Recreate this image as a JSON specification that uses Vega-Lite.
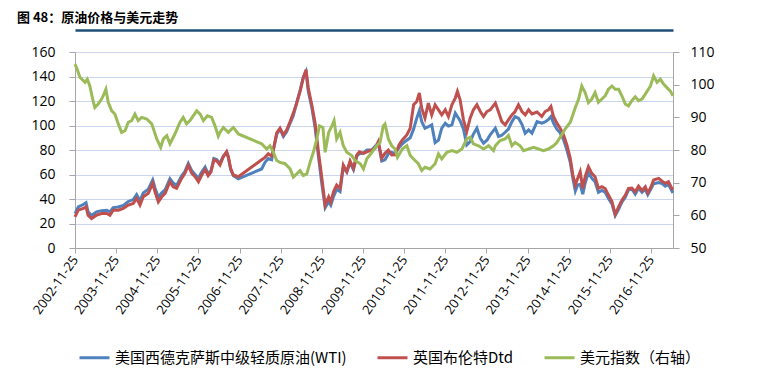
{
  "$schema": "https://vega.github.io/schema/vega-lite/v6.json",
  "width": 598,
  "height": 196,
  "autosize": {"type": "none"},
  "padding": {"left": 75, "top": 52, "right": 92, "bottom": 129},
  "background": "white",
  "title": {"text": "图 48：原油价格与美元走势", "anchor": "start", "frame": "group", "font": "Noto Sans CJK SC", "fontSize": 13, "fontWeight": "bold", "color": "#000000", "dx": -58, "offset": 5},
  "config": {
    "view": {"stroke": null},
    "axis": {"labelFont": "Open Sans", "labelColor": "#000000", "domainColor": "#A6A6A6", "tickColor": "#A6A6A6"}
  },
  "datasets": {
    "oil": [
      {"d": "2002-11-25", "wti": 28, "brent": 25.4},
      {"d": "2002-12-24", "wti": 33.5, "brent": 30.9},
      {"d": "2003-02-07", "wti": 35.5, "brent": 32.3},
      {"d": "2003-03-03", "wti": 37, "brent": 33.6},
      {"d": "2003-03-21", "wti": 29.5, "brent": 26.8},
      {"d": "2003-04-21", "wti": 26.5, "brent": 24.1},
      {"d": "2003-06-04", "wti": 29.5, "brent": 26.8},
      {"d": "2003-07-19", "wti": 30.5, "brent": 28.2},
      {"d": "2003-09-02", "wti": 30.8, "brent": 28.2},
      {"d": "2003-10-01", "wti": 29.5, "brent": 26.8},
      {"d": "2003-10-30", "wti": 33, "brent": 30.9},
      {"d": "2003-12-14", "wti": 33.5, "brent": 30.9},
      {"d": "2004-01-28", "wti": 34.8, "brent": 32.3},
      {"d": "2004-03-12", "wti": 38, "brent": 35},
      {"d": "2004-04-25", "wti": 39.5, "brent": 36.4},
      {"d": "2004-05-25", "wti": 43.5, "brent": 40.5},
      {"d": "2004-06-24", "wti": 38.5, "brent": 35},
      {"d": "2004-07-23", "wti": 45, "brent": 41.8},
      {"d": "2004-09-06", "wti": 48, "brent": 44.6},
      {"d": "2004-10-15", "wti": 55.5, "brent": 52.8},
      {"d": "2004-11-04", "wti": 49, "brent": 45.9},
      {"d": "2004-12-04", "wti": 41.5, "brent": 37.7},
      {"d": "2005-01-03", "wti": 45, "brent": 41.8},
      {"d": "2005-02-02", "wti": 47.5, "brent": 44.6},
      {"d": "2005-03-17", "wti": 56.5, "brent": 54.1},
      {"d": "2005-04-15", "wti": 53, "brent": 50},
      {"d": "2005-05-15", "wti": 51, "brent": 48.7},
      {"d": "2005-06-29", "wti": 59, "brent": 56.8},
      {"d": "2005-07-28", "wti": 62.5, "brent": 60.9},
      {"d": "2005-08-27", "wti": 69, "brent": 67.7},
      {"d": "2005-09-27", "wti": 63, "brent": 60.9},
      {"d": "2005-10-26", "wti": 60, "brent": 58.2},
      {"d": "2005-11-25", "wti": 57, "brent": 54.1},
      {"d": "2005-12-24", "wti": 62, "brent": 59.6},
      {"d": "2006-01-23", "wti": 66, "brent": 64},
      {"d": "2006-02-19", "wti": 60.5, "brent": 59},
      {"d": "2006-03-16", "wti": 63, "brent": 62},
      {"d": "2006-04-11", "wti": 73, "brent": 72},
      {"d": "2006-05-08", "wti": 72, "brent": 71},
      {"d": "2006-06-04", "wti": 69, "brent": 67.7},
      {"d": "2006-07-04", "wti": 75, "brent": 74.5},
      {"d": "2006-08-02", "wti": 78, "brent": 78.6},
      {"d": "2006-08-17", "wti": 74, "brent": 74.5},
      {"d": "2006-09-07", "wti": 64, "brent": 65},
      {"d": "2006-10-01", "wti": 59, "brent": 59.6},
      {"d": "2006-11-14", "wti": 56.5, "brent": 58.2},
      {"d": "2007-06-09", "wti": 64.5, "brent": 72},
      {"d": "2007-07-09", "wti": 70, "brent": 74},
      {"d": "2007-08-07", "wti": 73, "brent": 77},
      {"d": "2007-09-06", "wti": 72, "brent": 75},
      {"d": "2007-09-21", "wti": 80, "brent": 80},
      {"d": "2007-10-21", "wti": 93, "brent": 94},
      {"d": "2007-11-19", "wti": 97, "brent": 97.8},
      {"d": "2007-12-19", "wti": 91, "brent": 92.3},
      {"d": "2008-01-18", "wti": 95, "brent": 96.4},
      {"d": "2008-02-17", "wti": 102, "brent": 103.2},
      {"d": "2008-03-16", "wti": 108, "brent": 110.1},
      {"d": "2008-04-16", "wti": 119, "brent": 118.3},
      {"d": "2008-05-15", "wti": 128.5, "brent": 127.8},
      {"d": "2008-06-13", "wti": 139.5, "brent": 138.8},
      {"d": "2008-07-07", "wti": 144, "brent": 145.6},
      {"d": "2008-07-27", "wti": 128, "brent": 130.6},
      {"d": "2008-08-27", "wti": 115, "brent": 116.9},
      {"d": "2008-09-26", "wti": 98, "brent": 101.9},
      {"d": "2008-10-25", "wti": 75, "brent": 78.6},
      {"d": "2008-11-25", "wti": 52, "brent": 56.8},
      {"d": "2008-12-24", "wti": 33, "brent": 35},
      {"d": "2009-01-24", "wti": 38, "brent": 41.8},
      {"d": "2009-02-12", "wti": 35, "brent": 37.7},
      {"d": "2009-03-08", "wti": 42, "brent": 45.9},
      {"d": "2009-04-05", "wti": 48, "brent": 51.4},
      {"d": "2009-05-05", "wti": 46, "brent": 48.7},
      {"d": "2009-06-03", "wti": 66, "brent": 67.7},
      {"d": "2009-07-04", "wti": 62, "brent": 62.3},
      {"d": "2009-08-02", "wti": 69.5, "brent": 71},
      {"d": "2009-09-01", "wti": 64, "brent": 65},
      {"d": "2009-10-01", "wti": 75, "brent": 75.9},
      {"d": "2009-10-24", "wti": 77, "brent": 78.6},
      {"d": "2009-11-29", "wti": 77.5, "brent": 77.3},
      {"d": "2009-12-29", "wti": 80, "brent": 78.5},
      {"d": "2010-02-12", "wti": 80, "brent": 80},
      {"d": "2010-03-12", "wti": 83, "brent": 81.4},
      {"d": "2010-04-10", "wti": 85.5, "brent": 86.8},
      {"d": "2010-05-10", "wti": 71, "brent": 73.2},
      {"d": "2010-06-08", "wti": 72, "brent": 77.3},
      {"d": "2010-07-08", "wti": 77, "brent": 80},
      {"d": "2010-08-07", "wti": 78, "brent": 75.9},
      {"d": "2010-09-06", "wti": 77, "brent": 76},
      {"d": "2010-10-11", "wti": 82, "brent": 84.1},
      {"d": "2010-11-09", "wti": 85, "brent": 88.2},
      {"d": "2010-12-19", "wti": 88, "brent": 92.3},
      {"d": "2011-01-18", "wti": 90, "brent": 97.8},
      {"d": "2011-02-17", "wti": 97, "brent": 116.9},
      {"d": "2011-03-17", "wti": 106, "brent": 119.6},
      {"d": "2011-04-09", "wti": 112, "brent": 126.5},
      {"d": "2011-04-30", "wti": 103.2, "brent": 114.2},
      {"d": "2011-05-29", "wti": 97.8, "brent": 106},
      {"d": "2011-06-28", "wti": 99, "brent": 118.3},
      {"d": "2011-07-28", "wti": 100.5, "brent": 108.7},
      {"d": "2011-08-27", "wti": 86, "brent": 116.9},
      {"d": "2011-09-26", "wti": 88, "brent": 112.8},
      {"d": "2011-10-25", "wti": 97.8, "brent": 108.7},
      {"d": "2011-11-25", "wti": 101.9, "brent": 112.8},
      {"d": "2011-12-23", "wti": 99.5, "brent": 107.3},
      {"d": "2012-01-23", "wti": 100.5, "brent": 116.9},
      {"d": "2012-02-22", "wti": 110.1, "brent": 122.4},
      {"d": "2012-03-12", "wti": 107.3, "brent": 127.8},
      {"d": "2012-04-05", "wti": 104, "brent": 121},
      {"d": "2012-05-05", "wti": 97, "brent": 104.6},
      {"d": "2012-06-03", "wti": 84.1, "brent": 95},
      {"d": "2012-07-03", "wti": 86.8, "brent": 106},
      {"d": "2012-08-01", "wti": 93, "brent": 112.8},
      {"d": "2012-09-01", "wti": 97.8, "brent": 116.9},
      {"d": "2012-10-01", "wti": 89.6, "brent": 111.4},
      {"d": "2012-10-30", "wti": 85.5, "brent": 107.3},
      {"d": "2012-11-29", "wti": 88, "brent": 111.4},
      {"d": "2012-12-28", "wti": 92.3, "brent": 112.8},
      {"d": "2013-02-12", "wti": 97.8, "brent": 118.3},
      {"d": "2013-03-12", "wti": 91, "brent": 111},
      {"d": "2013-04-10", "wti": 92, "brent": 103.2},
      {"d": "2013-05-10", "wti": 94.5, "brent": 100.5},
      {"d": "2013-06-08", "wti": 97, "brent": 104.6},
      {"d": "2013-07-09", "wti": 103.2, "brent": 108.7},
      {"d": "2013-08-06", "wti": 107.3, "brent": 111.4},
      {"d": "2013-09-05", "wti": 106, "brent": 116.9},
      {"d": "2013-10-06", "wti": 101, "brent": 111.4},
      {"d": "2013-11-04", "wti": 93.7, "brent": 108.7},
      {"d": "2013-12-04", "wti": 96.4, "brent": 112.8},
      {"d": "2014-01-03", "wti": 93.7, "brent": 109.5},
      {"d": "2014-02-17", "wti": 103.2, "brent": 111},
      {"d": "2014-03-31", "wti": 101.9, "brent": 107.3},
      {"d": "2014-04-30", "wti": 103, "brent": 111.4},
      {"d": "2014-05-29", "wti": 105, "brent": 112.8},
      {"d": "2014-06-20", "wti": 107.3, "brent": 115.5},
      {"d": "2014-07-13", "wti": 102, "brent": 107.3},
      {"d": "2014-08-12", "wti": 97, "brent": 101.9},
      {"d": "2014-09-10", "wti": 94, "brent": 97.8},
      {"d": "2014-10-10", "wti": 88.5, "brent": 92.3},
      {"d": "2014-11-09", "wti": 80, "brent": 84.1},
      {"d": "2014-12-09", "wti": 70, "brent": 73.2},
      {"d": "2015-01-01", "wti": 57, "brent": 59.6},
      {"d": "2015-01-23", "wti": 46.5, "brent": 51.4},
      {"d": "2015-02-12", "wti": 51.5, "brent": 56.8},
      {"d": "2015-03-07", "wti": 52, "brent": 62.3},
      {"d": "2015-03-30", "wti": 44, "brent": 48.7},
      {"d": "2015-04-20", "wti": 53, "brent": 58.2},
      {"d": "2015-05-19", "wti": 61.5, "brent": 66.4},
      {"d": "2015-06-18", "wti": 57, "brent": 60.9},
      {"d": "2015-07-17", "wti": 54, "brent": 58.2},
      {"d": "2015-08-16", "wti": 45.5, "brent": 48.7},
      {"d": "2015-09-15", "wti": 47, "brent": 50},
      {"d": "2015-10-15", "wti": 45.5, "brent": 48.5},
      {"d": "2015-11-13", "wti": 40.5, "brent": 43.2},
      {"d": "2015-12-14", "wti": 36, "brent": 38},
      {"d": "2016-01-12", "wti": 26.5, "brent": 27.5},
      {"d": "2016-02-11", "wti": 31.5, "brent": 33.5},
      {"d": "2016-03-11", "wti": 37.5, "brent": 39},
      {"d": "2016-04-10", "wti": 41.5, "brent": 43},
      {"d": "2016-05-09", "wti": 47.5, "brent": 48.7},
      {"d": "2016-06-08", "wti": 48, "brent": 49},
      {"d": "2016-07-08", "wti": 44, "brent": 45.9},
      {"d": "2016-08-06", "wti": 49, "brent": 50.5},
      {"d": "2016-09-06", "wti": 45.5, "brent": 47},
      {"d": "2016-10-05", "wti": 48, "brent": 50},
      {"d": "2016-10-27", "wti": 43.5, "brent": 45},
      {"d": "2016-11-20", "wti": 47.5, "brent": 49},
      {"d": "2016-12-18", "wti": 52.5, "brent": 55.5},
      {"d": "2017-02-01", "wti": 53.5, "brent": 56.8},
      {"d": "2017-03-04", "wti": 52.5, "brent": 54.5},
      {"d": "2017-03-31", "wti": 50.5, "brent": 52.8},
      {"d": "2017-04-29", "wti": 52, "brent": 54.1},
      {"d": "2017-05-29", "wti": 46.5, "brent": 48.7},
      {"d": "2017-06-08", "wti": 45, "brent": 47.5}
    ],
    "usd": [
      {"d": "2002-11-25", "usd": 106.3}, {"d": "2002-12-17", "usd": 104.5}, {"d": "2003-01-08", "usd": 102.2},
      {"d": "2003-01-31", "usd": 101.5}, {"d": "2003-02-22", "usd": 100.7}, {"d": "2003-03-14", "usd": 101.7},
      {"d": "2003-04-06", "usd": 99.6}, {"d": "2003-04-28", "usd": 96}, {"d": "2003-05-20", "usd": 93},
      {"d": "2003-06-19", "usd": 94.1}, {"d": "2003-07-19", "usd": 95.6}, {"d": "2003-08-08", "usd": 97},
      {"d": "2003-08-26", "usd": 98.6}, {"d": "2003-09-16", "usd": 94.6}, {"d": "2003-10-17", "usd": 92},
      {"d": "2003-11-14", "usd": 91}, {"d": "2003-12-14", "usd": 88}, {"d": "2004-01-13", "usd": 85.4},
      {"d": "2004-02-12", "usd": 85.9}, {"d": "2004-03-12", "usd": 88.5}, {"d": "2004-04-11", "usd": 89},
      {"d": "2004-05-10", "usd": 91}, {"d": "2004-06-08", "usd": 89}, {"d": "2004-07-09", "usd": 90},
      {"d": "2004-08-23", "usd": 89.5}, {"d": "2004-10-06", "usd": 88}, {"d": "2004-11-20", "usd": 83.4},
      {"d": "2004-12-25", "usd": 80.8}, {"d": "2005-01-18", "usd": 83.4}, {"d": "2005-02-17", "usd": 84.4},
      {"d": "2005-03-17", "usd": 81.9}, {"d": "2005-04-30", "usd": 84.9}, {"d": "2005-06-14", "usd": 88.5},
      {"d": "2005-07-13", "usd": 90}, {"d": "2005-08-12", "usd": 88}, {"d": "2005-09-11", "usd": 89},
      {"d": "2005-10-11", "usd": 90.5}, {"d": "2005-11-10", "usd": 92}, {"d": "2005-12-10", "usd": 91},
      {"d": "2006-01-08", "usd": 89}, {"d": "2006-02-13", "usd": 90.5}, {"d": "2006-03-22", "usd": 90},
      {"d": "2006-04-21", "usd": 87.4}, {"d": "2006-05-20", "usd": 84.2}, {"d": "2006-06-04", "usd": 85.4},
      {"d": "2006-07-04", "usd": 86.9}, {"d": "2006-08-17", "usd": 85.4}, {"d": "2006-10-01", "usd": 86.9},
      {"d": "2006-11-14", "usd": 84.9}, {"d": "2007-06-09", "usd": 81.9}, {"d": "2007-07-24", "usd": 80.3},
      {"d": "2007-08-22", "usd": 81.3}, {"d": "2007-09-21", "usd": 79.3}, {"d": "2007-10-21", "usd": 76.8},
      {"d": "2007-11-19", "usd": 76.2}, {"d": "2008-01-03", "usd": 75.8}, {"d": "2008-02-17", "usd": 74.2},
      {"d": "2008-03-16", "usd": 71.7}, {"d": "2008-04-16", "usd": 72.7}, {"d": "2008-05-15", "usd": 73.7},
      {"d": "2008-06-13", "usd": 72.2}, {"d": "2008-07-14", "usd": 72.7}, {"d": "2008-08-12", "usd": 76.2},
      {"d": "2008-09-10", "usd": 79.3}, {"d": "2008-10-11", "usd": 83.4}, {"d": "2008-11-03", "usd": 87.4},
      {"d": "2008-12-04", "usd": 86.9}, {"d": "2008-12-24", "usd": 79.3}, {"d": "2009-01-24", "usd": 85.4},
      {"d": "2009-02-22", "usd": 87.4}, {"d": "2009-03-13", "usd": 89}, {"d": "2009-04-05", "usd": 83.4},
      {"d": "2009-05-05", "usd": 85.4}, {"d": "2009-06-03", "usd": 81.3}, {"d": "2009-07-04", "usd": 79.3},
      {"d": "2009-08-17", "usd": 78.3}, {"d": "2009-09-15", "usd": 76.8}, {"d": "2009-11-01", "usd": 75.8},
      {"d": "2009-11-29", "usd": 74.2}, {"d": "2009-12-29", "usd": 77.3}, {"d": "2010-02-12", "usd": 79.3},
      {"d": "2010-03-26", "usd": 81.3}, {"d": "2010-04-25", "usd": 82.3}, {"d": "2010-05-24", "usd": 87.4},
      {"d": "2010-06-08", "usd": 88}, {"d": "2010-07-08", "usd": 83.4}, {"d": "2010-08-07", "usd": 81.3},
      {"d": "2010-09-06", "usd": 80.3}, {"d": "2010-09-27", "usd": 77.8}, {"d": "2010-11-09", "usd": 80.3},
      {"d": "2010-12-19", "usd": 81.3}, {"d": "2011-01-18", "usd": 78.3}, {"d": "2011-03-02", "usd": 76.8},
      {"d": "2011-03-31", "usd": 75.8}, {"d": "2011-04-30", "usd": 73.7}, {"d": "2011-05-29", "usd": 74.7},
      {"d": "2011-07-13", "usd": 74.2}, {"d": "2011-08-27", "usd": 75.8}, {"d": "2011-09-26", "usd": 78.8},
      {"d": "2011-10-25", "usd": 77.3}, {"d": "2011-12-09", "usd": 79.3}, {"d": "2012-01-23", "usd": 79.8},
      {"d": "2012-03-07", "usd": 79.3}, {"d": "2012-04-21", "usd": 80.3}, {"d": "2012-06-03", "usd": 83.4},
      {"d": "2012-07-03", "usd": 83.9}, {"d": "2012-08-01", "usd": 81.9}, {"d": "2012-09-15", "usd": 81.3},
      {"d": "2012-10-30", "usd": 80.3}, {"d": "2012-12-14", "usd": 81.3}, {"d": "2013-01-27", "usd": 79.8},
      {"d": "2013-02-12", "usd": 81.3}, {"d": "2013-03-26", "usd": 82.9}, {"d": "2013-05-10", "usd": 83.4},
      {"d": "2013-06-08", "usd": 84.4}, {"d": "2013-07-09", "usd": 81.3}, {"d": "2013-08-06", "usd": 82.3},
      {"d": "2013-09-20", "usd": 81.3}, {"d": "2013-10-20", "usd": 79.8}, {"d": "2013-12-04", "usd": 80.3},
      {"d": "2014-01-17", "usd": 80.8}, {"d": "2014-03-02", "usd": 80.3}, {"d": "2014-04-14", "usd": 79.8},
      {"d": "2014-05-29", "usd": 80.3}, {"d": "2014-07-13", "usd": 81.3}, {"d": "2014-08-12", "usd": 82.3},
      {"d": "2014-09-10", "usd": 83.9}, {"d": "2014-10-24", "usd": 86.4}, {"d": "2014-12-09", "usd": 88.5},
      {"d": "2015-01-23", "usd": 93}, {"d": "2015-02-21", "usd": 95.6}, {"d": "2015-03-21", "usd": 99.6},
      {"d": "2015-04-20", "usd": 97.6}, {"d": "2015-05-19", "usd": 94.5}, {"d": "2015-06-18", "usd": 95.6},
      {"d": "2015-07-17", "usd": 97.6}, {"d": "2015-08-16", "usd": 94.6}, {"d": "2015-09-15", "usd": 95.6},
      {"d": "2015-10-15", "usd": 96.6}, {"d": "2015-11-13", "usd": 98.6}, {"d": "2015-12-14", "usd": 99.6},
      {"d": "2016-01-12", "usd": 98.6}, {"d": "2016-02-11", "usd": 98.6}, {"d": "2016-03-11", "usd": 96.6},
      {"d": "2016-04-10", "usd": 94.1}, {"d": "2016-05-09", "usd": 93.5}, {"d": "2016-06-08", "usd": 95.1},
      {"d": "2016-07-08", "usd": 96.3}, {"d": "2016-08-06", "usd": 95.1}, {"d": "2016-09-06", "usd": 95.6},
      {"d": "2016-10-05", "usd": 97.1}, {"d": "2016-11-20", "usd": 99.6}, {"d": "2016-12-18", "usd": 102.7},
      {"d": "2017-01-17", "usd": 100.7}, {"d": "2017-02-16", "usd": 101.7}, {"d": "2017-03-16", "usd": 100.2},
      {"d": "2017-04-15", "usd": 99.1}, {"d": "2017-05-14", "usd": 98.1}, {"d": "2017-06-08", "usd": 96.6}
    ]
  },
  "layer": [
    {
      "data": {"name": "oil"},
      "transform": [{"fold": ["wti", "brent"], "as": ["k", "v"]}],
      "mark": {"type": "line", "strokeWidth": 3},
      "encoding": {
        "x": {
          "field": "d", "type": "temporal",
          "scale": {"type": "utc", "domain": [{"year": 2002, "month": 11, "date": 25, "utc": true}, {"year": 2017, "month": 6, "date": 8, "utc": true}]},
          "axis": {
            "orient": "bottom", "title": null, "grid": false,
            "values": [
              {"year": 2002, "month": 11, "date": 25, "utc": true}, {"year": 2003, "month": 11, "date": 25, "utc": true},
              {"year": 2004, "month": 11, "date": 25, "utc": true}, {"year": 2005, "month": 11, "date": 25, "utc": true},
              {"year": 2006, "month": 11, "date": 25, "utc": true}, {"year": 2007, "month": 11, "date": 25, "utc": true},
              {"year": 2008, "month": 11, "date": 25, "utc": true}, {"year": 2009, "month": 11, "date": 25, "utc": true},
              {"year": 2010, "month": 11, "date": 25, "utc": true}, {"year": 2011, "month": 11, "date": 25, "utc": true},
              {"year": 2012, "month": 11, "date": 25, "utc": true}, {"year": 2013, "month": 11, "date": 25, "utc": true},
              {"year": 2014, "month": 11, "date": 25, "utc": true}, {"year": 2015, "month": 11, "date": 25, "utc": true},
              {"year": 2016, "month": 11, "date": 25, "utc": true}
            ],
            "labelExpr": "utcFormat(datum.value, '%Y-%m-%d')",
            "labelAngle": -55, "labelAlign": "right", "labelBaseline": "middle",
            "labelFontSize": 13, "labelPadding": 4, "tickSize": 5,
            "labelOverlap": false, "labelFlush": false, "labelBound": false
          }
        },
        "y": {
          "field": "v", "type": "quantitative",
          "scale": {"domain": [0, 160]},
          "axis": {"orient": "left", "title": null, "values": [0, 20, 40, 60, 80, 100, 120, 140, 160], "grid": true, "gridColor": "#CAD6EE", "gridWidth": 1, "tickSize": 6, "labelPadding": 14, "labelFontSize": 14}
        },
        "color": {
          "field": "k", "type": "nominal",
          "scale": {"domain": ["wti", "brent", "usd"], "range": ["#4F81BD", "#C0504D", "#9BBB59"]},
          "legend": {
            "orient": "none", "legendX": 3, "legendY": 289, "direction": "horizontal", "title": null,
            "symbolType": "stroke", "symbolSize": 900, "symbolStrokeWidth": 3,
            "labelFont": "Noto Sans CJK SC", "labelFontSize": 15, "labelColor": "#000000", "labelOffset": 4, "labelLimit": 400,
            "columnPadding": 24,
            "labelExpr": "datum.value == 'wti' ? '美国西德克萨斯中级轻质原油(WTI)' : datum.value == 'brent' ? '英国布伦特Dtd' : '美元指数（右轴）'"
          }
        }
      }
    },
    {
      "data": {"name": "usd"},
      "transform": [{"fold": ["usd"], "as": ["k", "v"]}],
      "mark": {"type": "line", "strokeWidth": 3},
      "encoding": {
        "x": {
          "field": "d", "type": "temporal",
          "axis": {"orient": "top", "offset": 22, "labels": false, "ticks": false, "grid": false, "title": null, "domainColor": "#1F4E79", "domainWidth": 2.5}
        },
        "y": {
          "field": "v", "type": "quantitative",
          "scale": {"domain": [50, 110]},
          "axis": {"orient": "right", "title": null, "values": [50, 60, 70, 80, 90, 100, 110], "grid": false, "tickSize": 6, "labelPadding": 11, "labelFontSize": 14}
        },
        "color": {"field": "k", "type": "nominal"}
      }
    }
  ],
  "resolve": {"scale": {"y": "independent"}, "axis": {"x": "independent"}}
}
